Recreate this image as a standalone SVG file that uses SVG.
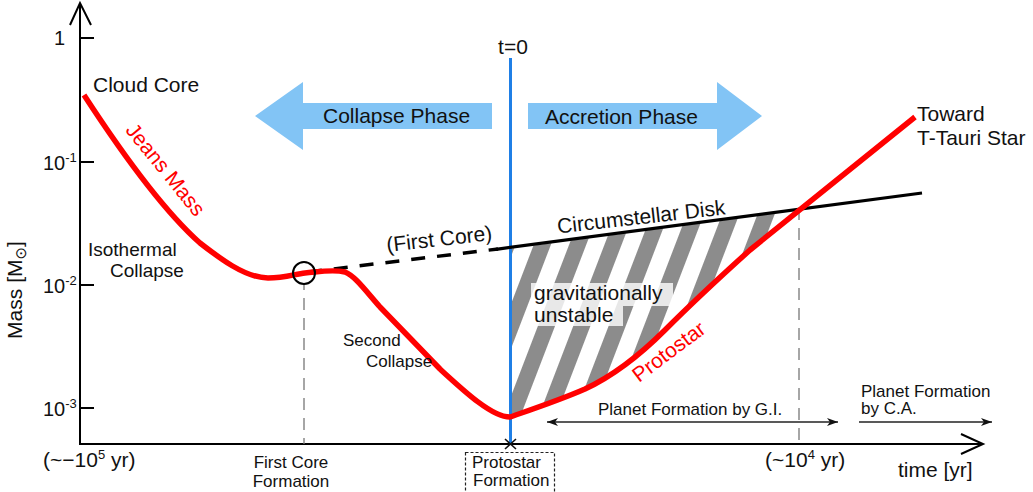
<svg xmlns="http://www.w3.org/2000/svg" width="1033" height="492" viewBox="0 0 1033 492">
<style>
text{font-family:"Liberation Sans",Arial,sans-serif;fill:#111}
.f21{font-size:21px}.f20{font-size:20px}.f19{font-size:19px}.f17{font-size:17px}
.red{fill:#f00}
.axis{stroke:#000;stroke-width:2;fill:none}
.vdash{stroke:#777;stroke-width:1.3;stroke-dasharray:12 8;fill:none}
.arr{stroke:#222;stroke-width:1.5;fill:none}
.phase{fill:#82c4f5}
</style>
<defs>
<pattern id="stripes" patternUnits="userSpaceOnUse" width="33" height="33" patternTransform="rotate(21)">
<rect x="0" y="0" width="8" height="33" fill="#8c8c8c"/>
<rect x="25" y="0" width="8" height="33" fill="#8c8c8c"/>
</pattern>
<clipPath id="hatchClip">
<path d="M511,248.6 L799,210 L750,250 C720,277 690,305 665,330 C640,355 615,375 585,389 C560,400 530,410 511,416.5 Z"/>
</clipPath>
<marker id="ah" markerWidth="12" markerHeight="10" refX="11" refY="5" orient="auto-start-reverse" markerUnits="userSpaceOnUse">
<path d="M0,1 L11,5 L0,9 L3,5 Z" fill="#111"/>
</marker>
</defs>
<rect width="1033" height="492" fill="#fff"/>

<g id="hatch">
<rect x="500" y="200" width="310" height="230" fill="url(#stripes)" clip-path="url(#hatchClip)"/>
</g>

<g id="axes">
<line class="axis" x1="80" y1="3" x2="80" y2="444"/>
<line class="axis" x1="79" y1="444" x2="983" y2="444"/>
<polyline class="axis" points="70,25 80,3 91,25"/>
<polyline class="axis" points="961,434 983,444 961,454"/>
<line class="axis" x1="80" y1="38" x2="94" y2="38"/>
<line class="axis" x1="80" y1="162" x2="94" y2="162"/>
<line class="axis" x1="80" y1="285" x2="94" y2="285"/>
<line class="axis" x1="80" y1="408" x2="94" y2="408"/>
<text class="f20" x="65" y="45" text-anchor="end">1</text>
<text class="f20" x="43" y="170">10<tspan dy="-8" font-size="13">-1</tspan></text>
<text class="f20" x="43" y="293">10<tspan dy="-8" font-size="13">-2</tspan></text>
<text class="f20" x="43" y="416">10<tspan dy="-8" font-size="13">-3</tspan></text>
<text class="f21" transform="translate(22,290) rotate(-90)" text-anchor="middle">Mass [M<tspan dy="4" font-size="15" font-family="DejaVu Sans, sans-serif">⊙</tspan><tspan dy="-4">]</tspan></text>
<text class="f21" x="43" y="467">(~−10<tspan dy="-8" font-size="13">5</tspan><tspan dy="8"> yr)</tspan></text>
<text class="f21" x="765" y="467">(~10<tspan dy="-8" font-size="13">4</tspan><tspan dy="8"> yr)</tspan></text>
<text class="f21" x="898" y="477">time [yr]</text>
</g>

<g id="guides">
<line class="vdash" x1="304" y1="284" x2="304" y2="444" stroke-dashoffset="6"/>
<line class="vdash" x1="799" y1="212" x2="799" y2="444" stroke-dashoffset="4"/>
</g>

<g id="phase-arrows">
<polygon class="phase" points="255,116 303,82 303,103 492,103 492,129 303,129 303,150"/>
<polygon class="phase" points="528,103 717,103 717,82 762,116 717,150 717,129 528,129"/>
<text class="f21" x="323" y="123">Collapse Phase</text>
<text class="f21" x="545" y="124">Accretion Phase</text>
</g>

<g id="t0">
<line x1="510.5" y1="58" x2="510.5" y2="444" stroke="#1f7fe6" stroke-width="3"/>
<text class="f21" x="513" y="54" text-anchor="middle">t=0</text>
<path d="M505,439 L516,449 M505,449 L516,439" stroke="#111" stroke-width="1.6"/>
</g>

<g id="connectors">
<line x1="304" y1="272.5" x2="498" y2="249" stroke="#000" stroke-width="3.5" stroke-dasharray="14 12" stroke-dashoffset="-4"/>
<line x1="496" y1="249.3" x2="922" y2="193" stroke="#000" stroke-width="3.2"/>
<path d="M84,95 C125,158 165,212 200,243 C218,257 245,278 268,278 C285,278 295,274 305,273 C318,272 332,269 345,272 C355,276 365,290 380,307 L440,369 C465,392 492,417 510,417 C530,410 560,400 585,389 C615,375 640,355 665,330 C690,305 720,277 750,250 L915,117" fill="none" stroke="#f00" stroke-width="5.5" stroke-linejoin="round"/>
<line class="arr" x1="547" y1="422" x2="838" y2="422" marker-start="url(#ah)" marker-end="url(#ah)"/>
<line class="arr" x1="859" y1="422" x2="992" y2="422" marker-end="url(#ah)"/>
</g>

<g id="first-core">
<circle cx="304" cy="273" r="11" fill="none" stroke="#000" stroke-width="2"/>
<text class="f21" transform="translate(440,246) rotate(-6.5)" text-anchor="middle">(First Core)</text>
</g>

<g id="labels">
<text class="f21" x="93" y="92">Cloud Core</text>
<text class="f21 red" transform="translate(160,174) rotate(51)" text-anchor="middle">Jeans Mass</text>
<text class="f19" x="88" y="256">Isothermal</text>
<text class="f19" x="110" y="277">Collapse</text>
<text class="f17" x="343" y="346">Second</text>
<text class="f17" x="366" y="367">Collapse</text>
<text class="f21" transform="translate(642,224) rotate(-6.5)" text-anchor="middle">Circumstellar Disk</text>
<text class="f21 red" transform="translate(639,383) rotate(-37)">Protostar</text>
<text class="f21" x="917" y="121">Toward</text>
<text class="f21" x="917" y="145">T-Tauri Star</text>
</g>

<g id="unstable">
<rect x="531" y="283" width="142" height="23" fill="#fff" fill-opacity="0.8"/>
<rect x="531" y="306" width="92" height="20" fill="#fff" fill-opacity="0.8"/>
<text class="f21" x="534" y="300">gravitationally</text>
<text class="f21" x="534" y="322">unstable</text>
</g>

<g id="planet-formation">
<text class="f17" x="598" y="415">Planet Formation by G.I.</text>
<text class="f17" x="861" y="397">Planet Formation</text>
<text class="f17" x="861" y="414">by C.A.</text>
</g>

<g id="x-labels">
<text class="f17" x="291" y="468" text-anchor="middle">First Core</text>
<text class="f17" x="291" y="487" text-anchor="middle">Formation</text>
<rect x="465.5" y="452.5" width="89" height="40" fill="none" stroke="#222" stroke-width="1.2" stroke-dasharray="3 2"/>
<text class="f17" x="472" y="468">Protostar</text>
<text class="f17" x="473" y="486">Formation</text>
</g>
</svg>
